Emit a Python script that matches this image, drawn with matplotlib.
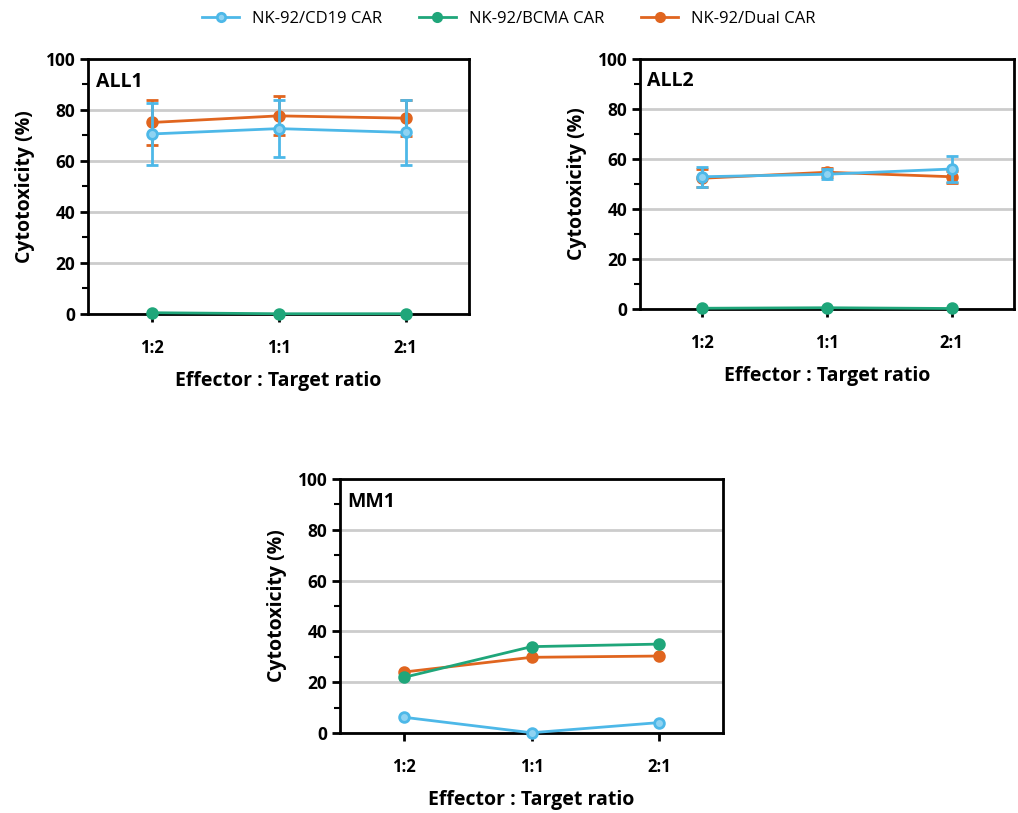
import matplotlib
matplotlib.use("Agg")
import matplotlib.pyplot as plt
from matplotlib.ticker import MultipleLocator
from matplotlib.lines import Line2D

plt.rcParams['font.family'] = ['Open Sans', 'DejaVu Sans']

ratios = ["1:2", "1:1", "2:1"]
series = ["NK-92/CD19 CAR", "NK-92/BCMA CAR", "NK-92/Dual CAR"]
colors = ["#4db8e8", "#1fa67a", "#e0651f"]

# ALL1
all1_cd19 = [70.6, 72.7, 71.2]
all1_cd19_err = [12.3, 11.3, 12.6]
all1_bcma = [0.5, 0.1, 0.1]
all1_bcma_err = [0, 0, 0]
all1_dual = [75.1, 77.7, 76.8]
all1_dual_err = [9.0, 7.7, 7.0]

# ALL2
all2_cd19 = [52.9, 53.9, 56.0]
all2_cd19_err = [4.0, 2.0, 5.2]
all2_bcma = [0.3, 0.5, 0.2]
all2_bcma_err = [0, 0, 0]
all2_dual = [52.3, 54.7, 52.9]
all2_dual_err = [3.5, 1.8, 2.4]

# MM1
mm1_cd19 = [6.2, 0.1, 4.1]
mm1_bcma = [21.9, 34.0, 35.0]
mm1_dual = [24.0, 29.8, 30.3]

fig = plt.figure(figsize=(10.18, 8.13), dpi=100)
W, H = 1018, 813

def ax_at(l, t, r, b):
    return fig.add_axes([l / W, 1 - b / H, (r - l) / W, (b - t) / H])

panels = [
    (ax_at(88, 59, 469, 314), "ALL1",
     [(all1_cd19, all1_cd19_err), (all1_bcma, all1_bcma_err), (all1_dual, all1_dual_err)]),
    (ax_at(640, 59, 1014, 309), "ALL2",
     [(all2_cd19, all2_cd19_err), (all2_bcma, all2_bcma_err), (all2_dual, all2_dual_err)]),
    (ax_at(340, 479, 723, 733), "MM1",
     [(mm1_cd19, None), (mm1_bcma, None), (mm1_dual, None)]),
]

zorders = {2: 3, 1: 4, 0: 5}
x = list(range(len(ratios)))
for ax, name, data in panels:
    for i in [2, 1, 0]:
        vals, err = data[i]
        c = colors[i]
        mfc = c if i != 0 else "#8fd3f2"
        if err is not None and any(e > 0 for e in err):
            ax.errorbar(x, vals, yerr=err, color=c, lw=2, marker='o', ms=7,
                        mfc=mfc, mec=c, mew=2,
                        capsize=4, capthick=2, elinewidth=2, zorder=zorders[i])
        else:
            ax.plot(x, vals, color=c, lw=2, marker='o', ms=7,
                    mfc=mfc, mec=c, mew=2,
                    zorder=zorders[i], clip_on=False)
    ax.set_xlim(-0.5, 2.5)
    ax.set_ylim(0, 100)
    ax.yaxis.set_major_locator(MultipleLocator(20))
    ax.yaxis.set_minor_locator(MultipleLocator(10))
    ax.set_xticks(x)
    ax.set_xticklabels(ratios, fontsize=12, fontweight='bold')
    for lab in ax.get_yticklabels():
        lab.set_fontsize(12.5)
        lab.set_fontweight('bold')
    ax.tick_params(axis='both', which='major', length=6, width=2, direction='out', pad=3)
    ax.tick_params(axis='x', which='major', pad=12)
    ax.tick_params(axis='y', which='minor', length=4, width=1.5, direction='out')
    ax.grid(axis='y', which='major', color='#cccccc', lw=2)
    ax.set_axisbelow(True)
    for s in ax.spines.values():
        s.set_linewidth(2)
        s.set_color('black')
    ax.set_ylabel("Cytotoxicity (%)", fontsize=14, fontweight='bold', labelpad=8)
    ax.set_xlabel("Effector : Target ratio", fontsize=14, fontweight='bold', labelpad=10)
    ax.text(0.02, 0.95, name, transform=ax.transAxes, fontsize=14, fontweight='bold',
            va='top', ha='left')

handles = [Line2D([0], [0], color=c, lw=2, marker='o', ms=6,
                  mfc=c if i != 0 else "#8fd3f2", mec=c, mew=2)
           for i, c in enumerate(colors)]
fig.legend(handles, series, loc='upper center', bbox_to_anchor=(0.5, 1.005), ncol=3,
           frameon=False, fontsize=12, handlelength=2.2, columnspacing=2.2)

fig.savefig("out.png", dpi=100)
